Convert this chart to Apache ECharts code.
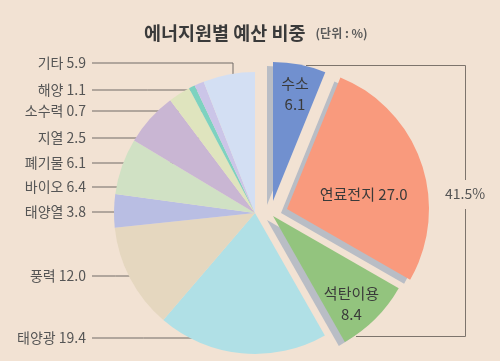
<!DOCTYPE html>
<html><head><meta charset="utf-8">
<script src="https://cdn.jsdelivr.net/npm/echarts@6/dist/echarts.min.js"></script>
<style>html,body{margin:0;padding:0;background:#f2e2d3}#c{width:500px;height:361px}</style>
</head><body><div id="c"></div>
<script>
// ---- data ----
const categories = ['수소','연료전지','석탄이용','태양광','풍력','태양열','바이오','폐기물','지열','소수력','해양','기타'];
const values = [6.1, 27.0, 8.4, 19.4, 12.0, 3.8, 6.4, 6.1, 2.5, 0.7, 1.1, 5.9];
const highlighted = ['수소','연료전지','석탄이용'];
const titleText = '에너지원별 예산 비중';
const unitText = '(단위 : %)';

// ---- styles ----
const FONT = '"Noto Sans CJK KR", "Noto Sans", sans-serif';
const BG = '#f2e2d3';
const colors = {
  '수소':'#7190cf','연료전지':'#f99a7d','석탄이용':'#93c47e','태양광':'#b0e0e6','풍력':'#e5d7bf',
  '태양열':'#b9bee3','바이오':'#d0e1c4','폐기물':'#c9b6d3','지열':'#dfe4be','소수력':'#7dd2c0',
  '해양':'#cbc5e8','기타':'#d3dff3'
};
const SHADE = '#b9bdc5';
const mainPie = {center:[255,213], r:141};
const explode = {
  '수소':    {center:[273,201], r:139, k:0.79, turn:0.5, sep:'\n'},
  '연료전지':{center:[287,209], r:142, k:0.55, turn:7.8, sep:' '},
  '석탄이용':{center:[273,216], r:145, k:0.81, turn:3,   sep:'\n'}
};
const shadeShift = [-6, 4];
// leader-line layout for outside labels (label y, polyline after the text)
const textRight = 86, lineStart = 92;
const leaders = {
  '기타':[63,[[233,63],[233,89]]],
  '해양':[90,[[203,90]]],
  '소수력':[111,[[204,111]]],
  '지열':[138,[[208,138]]],
  '폐기물':[163,[[196,163]]],
  '바이오':[187,[[169,187]]],
  '태양열':[212,[[139,212]]],
  '풍력':[276,[[139,276]]],
  '태양광':[338,[[195,338]]]
};

const total = values.reduce((a,b)=>a+b,0);
function midAngle(i){ let s=0; for(let j=0;j<i;j++) s+=values[j]; return (s+values[i]/2)/total*360; }
const fmt = v => v.toFixed(1);

function pieBase(center, r, z){
  return {type:'pie', center:center, radius:r, startAngle:90, clockwise:true, z:z,
    animation:false, silent:true, avoidLabelOverlap:false, emphasis:{disabled:true},
    itemStyle:{borderWidth:0}, labelLine:{show:false}, label:{show:false}};
}

const series = [];
// main (non-exploded) pie with left labels
const main = pieBase(mainPie.center, mainPie.r, 2);
main.data = categories.map((n,i)=>{
  const on = !highlighted.includes(n);
  return {name:n, value:values[i],
    itemStyle:{color: on ? colors[n] : 'rgba(0,0,0,0)', borderWidth:0},
    label:{show:on}, labelLine:{show:on}};
});
main.label = {show:true, position:'outside', fontFamily:FONT, fontSize:14, color:'#555',
  formatter: p => p.name + ' ' + fmt(p.value)};
main.labelLine = {show:true, lineStyle:{color:'#716b66', width:1}};
main.labelLayout = function(p){
  const n = categories[p.dataIndex];
  const L = leaders[n];
  if(!L) return {};
  const y = L[0];
  const pts = [[lineStart, y]].concat(L[1]);
  if(pts.length === 2) pts.splice(1,0,[ (pts[0][0]+pts[1][0])/2, y ]);
  return {x:textRight, y:y, align:'right', verticalAlign:'middle', labelLinePoints:pts};
};
series.push(main);

// exploded slices: a grey "thickness" copy underneath, then the coloured slice
highlighted.forEach(name=>{
  const e = explode[name];
  const idx = categories.indexOf(name);
  const sh = pieBase([e.center[0]+shadeShift[0], e.center[1]+shadeShift[1]], e.r, 3);
  sh.data = categories.map((n,i)=>({name:n, value:values[i],
    itemStyle:{color: n===name ? SHADE : 'rgba(0,0,0,0)', borderWidth:0}, label:{show:false}}));
  series.push(sh);
  const s = pieBase(e.center, e.r, 4);
  s.data = categories.map((n,i)=>({name:n, value:values[i],
    itemStyle:{color: n===name ? colors[n] : 'rgba(0,0,0,0)', borderWidth:0}, label:{show:n===name}}));
  s.label = {show:true, position:'inside', fontFamily:FONT, fontSize:15, lineHeight:21, color:'#3a3a3a',
    align:'center', formatter: p => p.name + e.sep + fmt(p.value)};
  s.labelLayout = function(p){
    if(p.dataIndex !== idx) return {};
    const a = (midAngle(idx) + e.turn) * Math.PI/180;
    return {x: e.center[0] + e.k*e.r*Math.sin(a), y: e.center[1] - e.k*e.r*Math.cos(a),
      align:'center', verticalAlign:'middle'};
  };
  series.push(s);
});

const hlSum = highlighted.reduce((a,n)=>a+values[categories.indexOf(n)],0);
const lineStyle = {stroke:'#7d746c', lineWidth:1, fill:null};
const option = {
  backgroundColor: BG,
  title:{left:139, top:19, text:'{a|'+titleText+'}  {b|'+unitText+'}',
    textStyle:{rich:{
      a:{fontFamily:FONT, fontSize:18.5, fontWeight:'bold', color:'#3a3a3a'},
      b:{fontFamily:FONT, fontSize:12, color:'#5a5a5a', padding:[1,0,0,0]}}}},
  graphic:[
    {type:'polyline', z:1, shape:{points:[[306,65.5],[465.5,65.5],[465.5,180]]}, style:lineStyle},
    {type:'polyline', z:1, shape:{points:[[465.5,209],[465.5,336.5],[356,336.5]]}, style:lineStyle},
    {type:'text', z:1, x:465, y:194, style:{text: fmt(hlSum)+'%', fontFamily:FONT, fontSize:14,
      fill:'#555', align:'center', verticalAlign:'middle'}}
  ],
  series: series
};
echarts.init(document.getElementById('c')).setOption(option);
</script></body></html>
